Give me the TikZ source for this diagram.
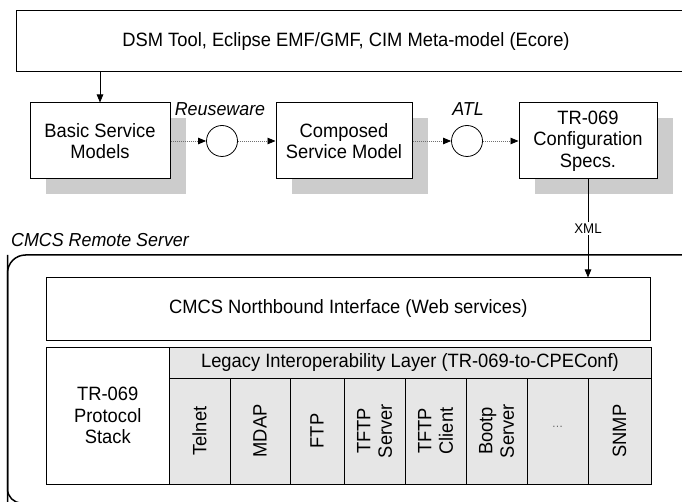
\documentclass[tikz,border=0pt]{standalone}
\usepackage{fontspec}
\setmainfont{Liberation Sans}[FakeStretch=0.95]
\usetikzlibrary{shadows,arrows.meta}
\definecolor{shadowgray}{HTML}{CCCCCC}
\definecolor{layergray}{HTML}{E6E6E6}
\definecolor{dotgray}{HTML}{707070}
\begin{document}
\begin{tikzpicture}[x=1pt,y=-1pt,
  txt/.style={font=\fontsize{19.3}{21.5}\selectfont},
  box/.style={draw, line width=1pt, fill=white, align=center, inner sep=0pt, txt},
  shadowed/.style={drop shadow={shadow xshift=16pt, shadow yshift=-15pt, fill=shadowgray, opacity=1}},
  modelbox/.style={box, shadowed, minimum height=76pt},
  circ/.style={draw, line width=0.8pt, circle, minimum size=31pt, inner sep=0pt, fill=white},
  arr/.style={line width=0.8pt, -{Triangle[length=8pt,width=6.5pt]}},
  dotconn/.style={draw=dotgray, line width=0.8pt, dash pattern=on 1pt off 1pt, -{Triangle[length=8pt,width=6.5pt,color=black,fill=black]}},
  lbl/.style={font=\fontsize{18.8}{21.5}\selectfont\itshape, inner sep=0pt},
  col/.style={draw, line width=1pt, fill=layergray, rotate=90, minimum width=106pt, align=center, inner sep=0pt, txt}
]
\useasboundingbox (0,0) rectangle (682,502);
% top bar
\node[draw, line width=1pt, minimum width=676pt, minimum height=61pt, inner sep=0pt] (topbox) at (354,41.5) {};
\node[txt, inner sep=0pt] (toptext) at (346,42) {DSM Tool, Eclipse EMF/GMF, CIM Meta-model (Ecore)};
% model boxes
\node[modelbox, minimum width=140pt] (basic) at (100,141) {Basic Service\\Models};
\node[modelbox, minimum width=136pt] (comp) at (344,141) {Composed\\Service Model};
\node[modelbox, minimum width=138pt] (tr) at (588,141) {TR-069\\Configuration\\Specs.};
\node[circ] (c1) at (222,141) {};
\node[circ] (c2) at (467,141) {};
\node[lbl, anchor=base] (reuse) at (220,116) {Reuseware};
\node[lbl, anchor=base] (atl) at (468,116) {ATL};
\draw[arr] (basic.north |- topbox.south) -- (basic.north);
\draw[dotconn] (basic.east) -- (c1.west);
\draw[dotconn] (c1.east) -- (comp.west);
\draw[dotconn] (comp.east) -- (c2.west);
\draw[dotconn] (c2.east) -- (tr.west);
% server
\node[lbl, anchor=base west] (srvlbl) at (11,247) {CMCS Remote Server};
\draw[line width=1.5pt, rounded corners=18pt] (7.5,700) -- (7.5,255) -- (720,255);
\path (7.5,255) coordinate (srvcorner);
\draw[line width=1.5pt, rounded corners=14pt] (srvcorner) -- (7.5,503) -- (60,503);
\node[box, minimum width=603.5pt, minimum height=62pt] (nb) at (348.25,309) {CMCS Northbound Interface (Web services)};
\draw[arr] (tr.south) -- node[fill=white, inner sep=1.5pt, font=\fontsize{14}{16}\selectfont] (xml) {XML} (tr.south |- nb.north);
\node[box, minimum width=122.5pt, minimum height=137pt] (stack) at (107.75,415.5) {TR-069\\Protocol\\Stack};
\node[box, fill=layergray, minimum width=482pt, minimum height=31pt] (legacy) at (410,362.5) {Legacy Interoperability Layer (TR-069-to-CPEConf)};
\node[col, minimum height=61pt] (telnet) at (199.5,431) {Telnet};
\node[col, minimum height=60pt] (mdap) at (260,431) {MDAP};
\node[col, minimum height=54pt] (ftp) at (317,431) {FTP};
\node[col, minimum height=61pt] (tftps) at (374.5,431) {TFTP\\Server};
\node[col, minimum height=61pt] (tftpc) at (435.5,431) {TFTP\\Client};
\node[col, minimum height=61pt] (bootp) at (496.5,431) {Bootp\\Server};
\node[col, minimum height=61pt] (dots) at (557.5,431) {};
\node[font=\fontsize{12}{14}\selectfont, text=gray!80!black, inner sep=0pt] (dotstext) at ([yshift=4pt]dots.center) {\dots};
\node[col, minimum height=63pt] (snmp) at (619.5,431) {SNMP};
\end{tikzpicture}
\end{document}
